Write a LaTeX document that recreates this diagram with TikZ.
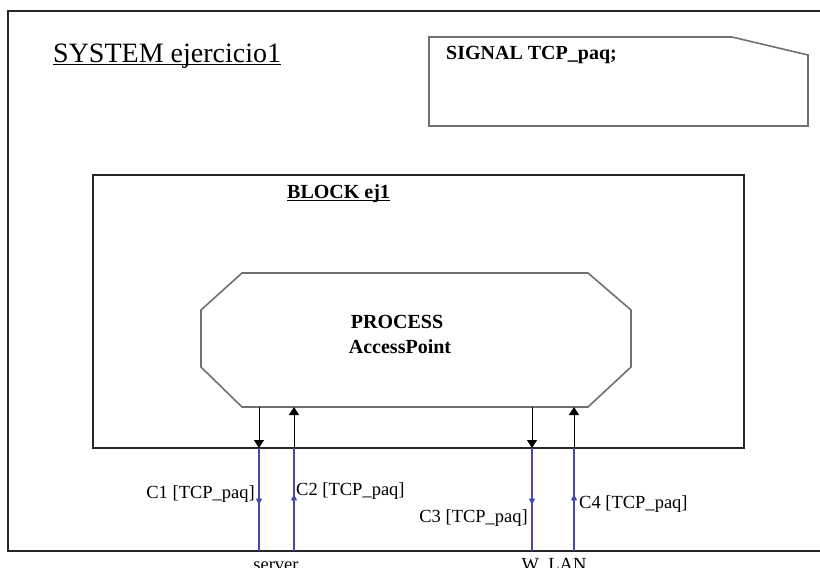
\documentclass[tikz,border=0pt]{standalone}
\usepackage{fontspec}
\setmainfont{Liberation Serif}
\usetikzlibrary{arrows.meta,decorations.markings}
\definecolor{canal}{RGB}{72,72,168}
\definecolor{borde}{RGB}{112,112,112}
\tikzset{
  marco/.style={draw=black!85, line width=1.4pt},
  gris/.style={draw=borde, line width=1.6pt},
  senal/.style={-{Triangle[width=10pt,length=8pt]}, line width=0.9pt},
  canalvia/.style={canal, line width=1.2pt, postaction={decorate},
    decoration={markings, mark=at position 0.55 with {\arrow{Triangle[width=6pt,length=6pt]}}}},
  etiq/.style={font=\fontsize{18.5}{20}\selectfont, inner sep=0pt},
  negrita/.style={font=\fontsize{20}{22}\selectfont\bfseries, inner sep=0pt},
}
\begin{document}
\begin{tikzpicture}[x=1pt, y=-1pt]
    % Khung ngoài (toạ độ tính theo pixel của hình gốc)
    \useasboundingbox (0,0) rectangle (820,568);
    \draw[marco] (820,11) -- (8,11) -- (8,551) -- (820,551);

    % Tiêu đề hệ thống, gạch chân
    \node[inner sep=0pt, anchor=base west, font=\fontsize{28}{30}\selectfont] (sys) at (53,62) {SYSTEM ejercicio1};
    \draw[line width=0.9pt] ([yshift=-2pt]sys.base west) -- ([yshift=-2pt]sys.base east);

    % Hộp khai báo tín hiệu, góc trên phải bị cắt
    \draw[gris] (429,37) -- (732,37) -- (808,55) -- (808,126) -- (429,126) -- cycle;
    \node[negrita, anchor=base west] (senal) at (446,59) {SIGNAL TCP\_paq;};

    % Khối ej1
    \draw[marco] (93,175) rectangle (744,448);
    \node[negrita, anchor=base west] (bloque) at (287,198) {BLOCK ej1};
    \draw[line width=0.9pt] ([yshift=-2pt]bloque.base west) -- ([yshift=-2pt]bloque.base east);

    % Tiến trình AccessPoint (bát giác)
    \draw[gris] (242,273) -- (588,273) -- (631,310) -- (631,367) -- (588,407)
        -- (242,407) -- (201,367) -- (201,310) -- cycle;
    \node[negrita, anchor=base] (proc) at (397,328) {PROCESS};
    \node[negrita, anchor=base] (ap) at (400,353) {AccessPoint};

    % Các điểm nối trên cạnh dưới của tiến trình, khối và khung
    \coordinate (p1) at (259,407);  \coordinate (b1) at (259,448);  \coordinate (s1) at (259,551);
    \coordinate (p2) at (294,407);  \coordinate (b2) at (294,448);  \coordinate (s2) at (294,551);
    \coordinate (p3) at (532,407);  \coordinate (b3) at (532,448);  \coordinate (s3) at (532,551);
    \coordinate (p4) at (574,407);  \coordinate (b4) at (574,448);  \coordinate (s4) at (574,551);

    % Tuyến tín hiệu trong khối
    \draw[senal] (p1) -- (b1);
    \draw[senal] (b2) -- (p2);
    \draw[senal] (p3) -- (b3);
    \draw[senal] (b4) -- (p4);

    % Kênh C1..C4 ra môi trường
    \draw[canalvia] (b1) -- (s1);
    \draw[canalvia] (s2) -- (b2);
    \draw[canalvia] (b3) -- (s3);
    \draw[canalvia] (s4) -- (b4);

    % Nhãn kênh
    \node[etiq, anchor=base east] (c1) at (255,498) {C1 [TCP\_paq]};
    \node[etiq, anchor=base west] (c2) at (296,495) {C2 [TCP\_paq]};
    \node[etiq, anchor=base east] (c3) at (528,522) {C3 [TCP\_paq]};
    \node[etiq, anchor=base west] (c4) at (579,508) {C4 [TCP\_paq]};

    % Nhãn môi trường
    \node[etiq, anchor=base] (server) at (276,570) {server};
    \node[etiq, anchor=base] (wlan) at (554,570) {W\_LAN};

\end{tikzpicture}
\end{document}
